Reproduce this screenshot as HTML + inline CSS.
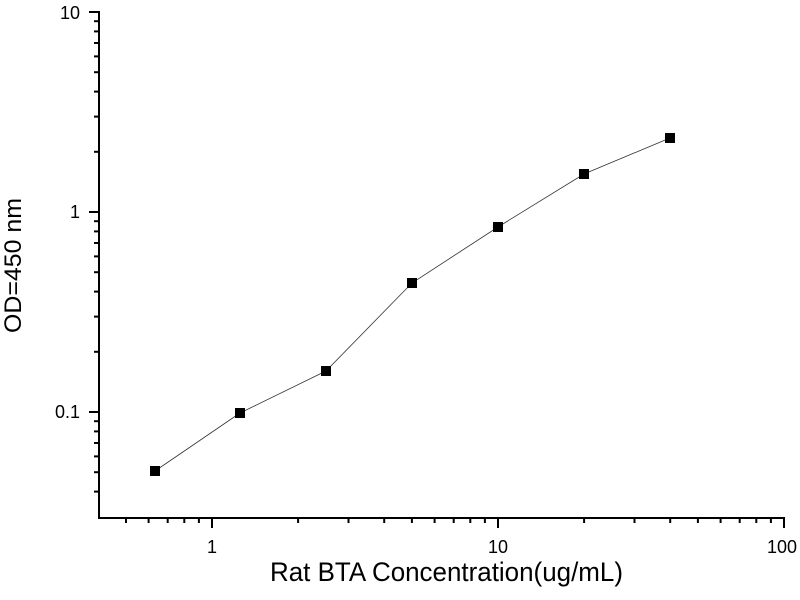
<!DOCTYPE html>
<html><head><meta charset="utf-8"><style>html,body{margin:0;padding:0;background:#fff}svg{display:block}</style></head>
<body>
<svg width="800" height="600" xmlns="http://www.w3.org/2000/svg" font-family="Liberation Sans, Arial, sans-serif">
<rect width="800" height="600" fill="#fff"/>
<g stroke="#000" stroke-width="2">
<line x1="212" y1="518" x2="212" y2="528"/><line x1="498" y1="518" x2="498" y2="528"/><line x1="784" y1="518" x2="784" y2="528"/>
<line x1="126" y1="518" x2="126" y2="523"/><line x1="148.6" y1="518" x2="148.6" y2="523"/><line x1="167.7" y1="518" x2="167.7" y2="523"/><line x1="184.3" y1="518" x2="184.3" y2="523"/><line x1="198.9" y1="518" x2="198.9" y2="523"/>
<line x1="298.1" y1="518" x2="298.1" y2="523"/><line x1="348.5" y1="518" x2="348.5" y2="523"/><line x1="384.2" y1="518" x2="384.2" y2="523"/><line x1="411.9" y1="518" x2="411.9" y2="523"/><line x1="434.6" y1="518" x2="434.6" y2="523"/><line x1="453.7" y1="518" x2="453.7" y2="523"/><line x1="470.3" y1="518" x2="470.3" y2="523"/><line x1="484.9" y1="518" x2="484.9" y2="523"/>
<line x1="584.1" y1="518" x2="584.1" y2="523"/><line x1="634.5" y1="518" x2="634.5" y2="523"/><line x1="670.2" y1="518" x2="670.2" y2="523"/><line x1="697.9" y1="518" x2="697.9" y2="523"/><line x1="720.6" y1="518" x2="720.6" y2="523"/><line x1="739.7" y1="518" x2="739.7" y2="523"/><line x1="756.3" y1="518" x2="756.3" y2="523"/><line x1="770.9" y1="518" x2="770.9" y2="523"/>
<line x1="89" y1="12" x2="99" y2="12"/><line x1="89" y1="212" x2="99" y2="212"/><line x1="89" y1="412" x2="99" y2="412"/>
<line x1="94" y1="491.6" x2="99" y2="491.6"/><line x1="94" y1="472.2" x2="99" y2="472.2"/><line x1="94" y1="456.4" x2="99" y2="456.4"/><line x1="94" y1="443" x2="99" y2="443"/><line x1="94" y1="431.4" x2="99" y2="431.4"/><line x1="94" y1="421.2" x2="99" y2="421.2"/>
<line x1="94" y1="351.8" x2="99" y2="351.8"/><line x1="94" y1="316.6" x2="99" y2="316.6"/><line x1="94" y1="291.6" x2="99" y2="291.6"/><line x1="94" y1="272.2" x2="99" y2="272.2"/><line x1="94" y1="256.4" x2="99" y2="256.4"/><line x1="94" y1="243" x2="99" y2="243"/><line x1="94" y1="231.4" x2="99" y2="231.4"/><line x1="94" y1="221.2" x2="99" y2="221.2"/>
<line x1="94" y1="151.8" x2="99" y2="151.8"/><line x1="94" y1="116.6" x2="99" y2="116.6"/><line x1="94" y1="91.6" x2="99" y2="91.6"/><line x1="94" y1="72.2" x2="99" y2="72.2"/><line x1="94" y1="56.4" x2="99" y2="56.4"/><line x1="94" y1="43" x2="99" y2="43"/><line x1="94" y1="31.4" x2="99" y2="31.4"/><line x1="94" y1="21.2" x2="99" y2="21.2"/>
</g>
<line x1="99" y1="11" x2="99" y2="519" stroke="#000" stroke-width="2"/>
<line x1="98" y1="518" x2="785" y2="518" stroke="#000" stroke-width="2"/>
<polyline points="155,471 240,413 326,371 412,283 498,227 584,174 670,138" fill="none" stroke="#333" stroke-width="0.8"/>
<g fill="#000">
<rect x="150" y="466" width="10" height="10"/>
<rect x="235" y="408" width="10" height="10"/>
<rect x="321" y="366" width="10" height="10"/>
<rect x="407" y="278" width="10" height="10"/>
<rect x="493" y="222" width="10" height="10"/>
<rect x="579" y="169" width="10" height="10"/>
<rect x="665" y="133" width="10" height="10"/>
</g>
<g font-size="18" fill="#000" text-anchor="end">
<text x="80" y="19">10</text>
<text x="80" y="218">1</text>
<text x="80" y="418">0.1</text>
</g>
<g font-size="18" fill="#000" text-anchor="middle">
<text x="212" y="553">1</text>
<text x="498" y="553">10</text>
<text x="782" y="553">100</text>
</g>
<text x="270" y="581" font-size="27" textLength="353" lengthAdjust="spacingAndGlyphs">Rat BTA Concentration(ug/mL)</text>
<text transform="translate(21,333) rotate(-90)" font-size="24" textLength="135" lengthAdjust="spacingAndGlyphs">OD=450 nm</text>
</svg>
</body></html>
